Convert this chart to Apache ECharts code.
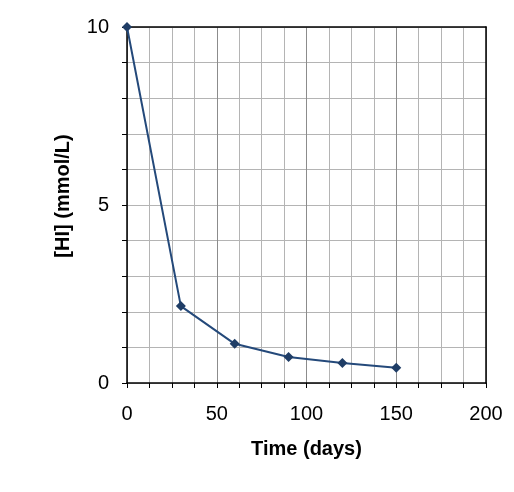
<!DOCTYPE html>
<html>
<head>
<meta charset="utf-8">
<script src="https://cdn.jsdelivr.net/npm/echarts@6/dist/echarts.min.js"></script>
<style>
  html, body { margin: 0; padding: 0; background: #fff; }
  #chart { width: 514px; height: 492px; }
</style>
</head>
<body>
<div id="chart"></div>
<script>
// time in days and measured [HI]
var days = [0, 30, 60, 90, 120, 150];
var hiConc = [10, 2.16, 1.1, 0.73, 0.56, 0.43];

var xTicks = [0, 50, 100, 150, 200];
var yTicks = [0, 5, 10];

var chart = echarts.init(document.getElementById("chart"), null, { renderer: "canvas" });

var font = "Liberation Sans, Arial, sans-serif";

// plain black line for the top and right frame
function frameAxis(pos, min, max) {
  return {
    type: "value",
    position: pos,
    min: min,
    max: max,
    axisLine: { show: true, onZero: false, lineStyle: { color: "#000", width: 1.5 } },
    axisTick: { show: false },
    axisLabel: { show: false },
    splitLine: { show: false }
  };
}

chart.setOption({
  animation: false,
  grid: {
    left: 127,
    top: 27,
    width: 359,
    height: 356
  },
  xAxis: [
    {
      type: "value",
      min: xTicks[0],
      max: xTicks[xTicks.length - 1],
      interval: 50,
      name: "Time (days)",
      nameLocation: "middle",
      nameGap: 56,
      nameTextStyle: { fontFamily: font, fontSize: 20, fontWeight: "bold", color: "#000" },
      axisLine: { show: true, onZero: false, lineStyle: { color: "#000", width: 1.5 } },
      axisTick: { show: true, length: 5, lineStyle: { color: "#000" } },
      minorTick: { show: true, splitNumber: 4, length: 5, lineStyle: { color: "#000" } },
      axisLabel: { fontFamily: font, fontSize: 20, color: "#000", margin: 21 },
      splitLine: { show: true, lineStyle: { color: "#8c8c8c", width: 1 } },
      minorSplitLine: { show: true, lineStyle: { color: "#b4b4b4", width: 1 } }
    },
    frameAxis("top", xTicks[0], xTicks[xTicks.length - 1])
  ],
  yAxis: [
    {
      type: "value",
      min: yTicks[0],
      max: yTicks[yTicks.length - 1],
      interval: 5,
      name: "[HI] (mmol/L)",
      nameLocation: "middle",
      nameGap: 54,
      nameTextStyle: { fontFamily: font, fontSize: 20, fontWeight: "bold", color: "#000", padding: [0, 0, 0, 18] },
      axisLine: { show: true, onZero: false, lineStyle: { color: "#000", width: 1.5 } },
      axisTick: { show: true, length: 5, lineStyle: { color: "#000" } },
      minorTick: { show: true, splitNumber: 5, length: 5, lineStyle: { color: "#000" } },
      axisLabel: { fontFamily: font, fontSize: 20, color: "#000", margin: 18 },
      splitLine: { show: true, lineStyle: { color: "#b4b4b4", width: 1 } },
      minorSplitLine: { show: true, lineStyle: { color: "#b4b4b4", width: 1 } }
    },
    frameAxis("right", yTicks[0], yTicks[yTicks.length - 1])
  ],
  series: [
    {
      type: "line",
      data: days.map(function (d, i) { return [d, hiConc[i]]; }),
      symbol: "diamond",
      symbolSize: 10,
      lineStyle: { color: "#24497a", width: 2 },
      itemStyle: { color: "#1f3d66" }
    }
  ]
});
</script>
</body>
</html>
